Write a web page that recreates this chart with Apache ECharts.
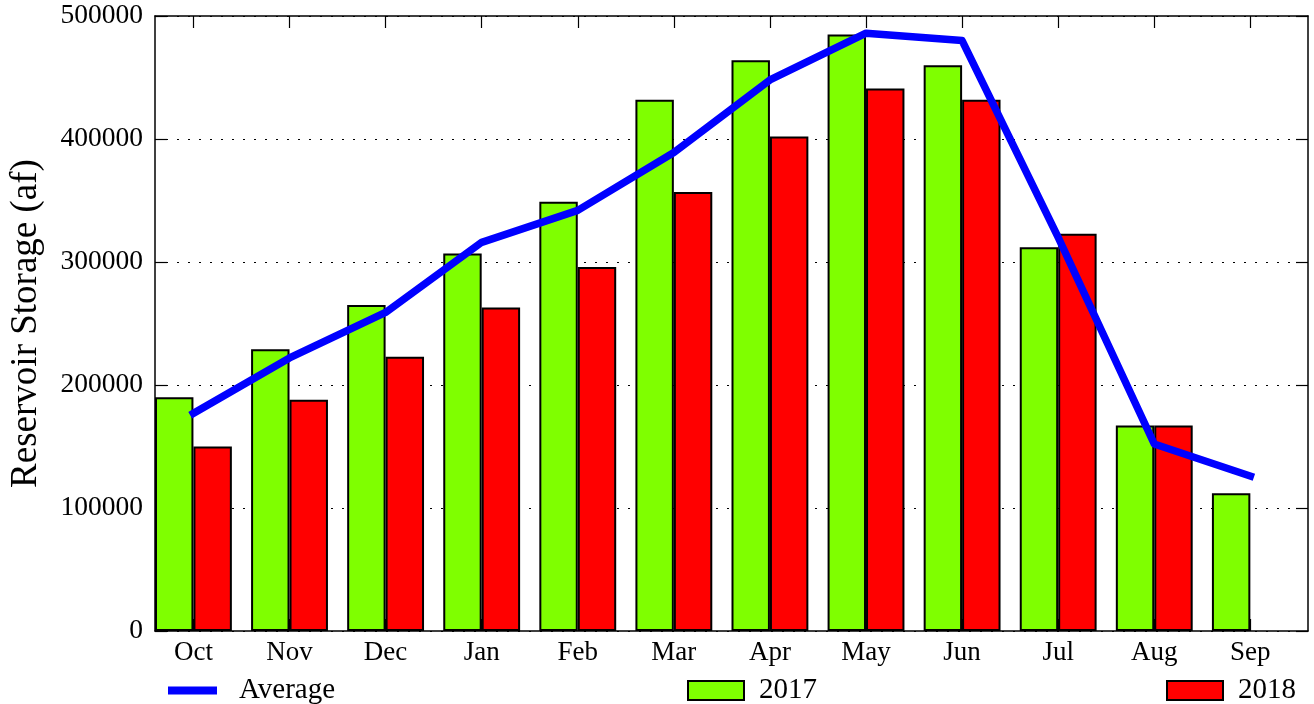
<!DOCTYPE html>
<html>
<head>
<meta charset="utf-8">
<script src="https://cdn.jsdelivr.net/npm/echarts@6/dist/echarts.min.js"></script>
<style>
html,body{margin:0;padding:0;background:#fff;}
#chart{width:1314px;height:704px;}
</style>
</head>
<body>
<div id="chart"></div>
<script>
var months = ['Oct','Nov','Dec','Jan','Feb','Mar','Apr','May','Jun','Jul','Aug','Sep'];
var storage2017 = [190000,229000,265000,307000,349000,432000,464000,485000,460000,312000,167000,112000];
var storage2018 = [150000,188000,223000,263000,296000,357000,402000,441000,432000,323000,167000,null];
var average = [177000,222000,259000,316000,342000,389000,448000,486000,480000,320000,152000,126000];
var yTicks = [0,100000,200000,300000,400000,500000];

var idx = months.map(function(m,i){return i;});
function pairs(arr){
  var out=[];
  arr.forEach(function(v,i){ if(v!==null) out.push([i,v]); });
  return out;
}
var FONT = 'Liberation Serif';
var chart = echarts.init(document.getElementById('chart'), null, {renderer:'canvas'});
var frameLine = {show:true, onZero:false, lineStyle:{color:'#000', width:1.5}};
var option = {
  animation:false,
  backgroundColor:'#fff',
  grid:{left:150, top:16, width:1158, height:615, containLabel:false},
  xAxis:[{
    type:'value', position:'bottom', min:-0.4, max:11.6,
    axisLine:frameLine,
    axisTick:{show:true, inside:true, length:12, customValues:idx, lineStyle:{color:'#000', width:1.2}},
    axisLabel:{show:true, customValues:idx, margin:8, color:'#000', fontFamily:FONT, fontSize:27,
      formatter:function(v){return months[Math.round(v)];}},
    splitLine:{show:false}
  },{
    type:'value', position:'top', min:-0.4, max:11.6,
    axisLine:frameLine,
    axisTick:{show:true, inside:true, length:12, customValues:idx, lineStyle:{color:'#000', width:1.2}},
    axisLabel:{show:false},
    splitLine:{show:false}
  }],
  yAxis:[{
    type:'value', position:'left', min:0, max:500000, interval:100000,
    name:'Reservoir Storage (af)', nameLocation:'middle', nameRotate:90, nameGap:110,
    nameTextStyle:{color:'#000', fontFamily:FONT, fontSize:37},
    axisLine:frameLine,
    axisTick:{show:true, inside:true, length:12, lineStyle:{color:'#000', width:1.2}},
    axisLabel:{color:'#000', fontFamily:FONT, fontSize:27.5, margin:12,
      formatter:function(v){return String(v);}},
    splitLine:{show:true, lineStyle:{color:'#000', width:1.2, type:[2,9]}}
  },{
    type:'value', position:'right', min:0, max:500000, interval:100000,
    axisLine:frameLine,
    axisTick:{show:true, inside:true, length:12, lineStyle:{color:'#000', width:1.2}},
    axisLabel:{show:false},
    splitLine:{show:false}
  }],
  legend:[{
    data:[{name:'Average', icon:'rect'}], left:163, top:671, itemWidth:49, itemHeight:8,
    itemStyle:{color:'#0000ff', borderWidth:0},
    lineStyle:{width:0},
    textStyle:{color:'#000', fontFamily:FONT, fontSize:29, padding:[0,0,0,17]}
  },{
    data:[{name:'2017', icon:'rect'}], left:682, top:671, itemWidth:56, itemHeight:19,
    itemStyle:{borderColor:'#000', borderWidth:2},
    textStyle:{color:'#000', fontFamily:FONT, fontSize:29, padding:[0,0,0,10]}
  },{
    data:[{name:'2018', icon:'rect'}], left:1161, top:671, itemWidth:56, itemHeight:19,
    itemStyle:{borderColor:'#000', borderWidth:2},
    textStyle:{color:'#000', fontFamily:FONT, fontSize:29, padding:[0,0,0,10]}
  }],
  series:[{
    name:'2017', type:'bar', xAxisIndex:0, yAxisIndex:0,
    data:pairs(storage2017), barWidth:'40%', barGap:'0%',
    itemStyle:{color:'#7fff00', borderColor:'#000', borderWidth:2},
    z:2
  },{
    name:'2018', type:'bar', xAxisIndex:0, yAxisIndex:0,
    data:pairs(storage2018), barWidth:'40%', barGap:'0%',
    itemStyle:{color:'#ff0000', borderColor:'#000', borderWidth:2},
    z:2
  },{
    name:'Average', type:'line', xAxisIndex:0, yAxisIndex:0,
    data:pairs(average), symbol:'none', showSymbol:false,
    lineStyle:{color:'#0000ff', width:7.5, cap:'square', join:'round'},
    itemStyle:{color:'#0000ff'},
    z:5
  }]
};
chart.setOption(option);
</script>
</body>
</html>
